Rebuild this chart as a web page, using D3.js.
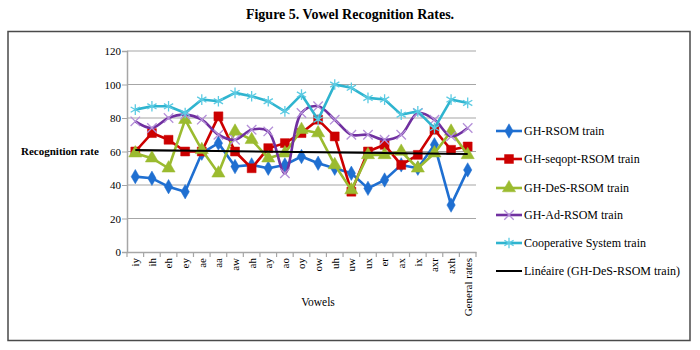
<!DOCTYPE html>
<html>
<head>
<meta charset="utf-8">
<script src="https://cdn.jsdelivr.net/npm/d3@7/dist/d3.min.js"></script>
<style>
html,body{margin:0;padding:0;background:#fff;}
svg{display:block;}
text{font-family:"Liberation Serif","Times New Roman",serif;fill:#000;}
</style>
</head>
<body>
<svg id="chart" width="700" height="350"></svg>
<script>
const categories = ["iy","ih","eh","ey","ae","aa","aw","ah","ay","ao","oy","ow","uh","uw","ux","er","ax","ix","axr","axh","General rates"];
const ghRsom    = [45,44,39,36,59,65,51,52,50,52,57,53,50,47,38,43,52,50,64,28,49];
const ghSeqopt  = [60,71,67,60,60,81,60,50,62,65,71,79,69,36,60,64,52,58,73,61,63];
const ghDes     = [59,56,50,79,61,47,72,67,56,59,73,71,52,37,58,58,60,50,59,72,58];
const ghAd      = [78,74,80,82,79,70,67,73,72,47,83,87,79,70,70,67,70,83,79,69,74];
const coop      = [85,87,87,83,91,90,95,93,90,84,94,79,100,98,92,91,82,84,74,91,89];
const yTicks    = [0,20,40,60,80,100,120];
const seriesNames = ["GH-RSOM train","GH-seqopt-RSOM train","GH-DeS-RSOM train","GH-Ad-RSOM train","Cooperative System train"];
const trendName = "Linéaire (GH-DeS-RSOM train)";

const series = [
  {name: seriesNames[0], values: ghRsom,   line:"#1f6fd1", mark:"#1f6fd1", sym:"diamond", curve:false},
  {name: seriesNames[1], values: ghSeqopt, line:"#cc0000", mark:"#cc0000", sym:"square",  curve:false},
  {name: seriesNames[2], values: ghDes,    line:"#9bbb2f", mark:"#9bbb2f", sym:"triangle",curve:false},
  {name: seriesNames[3], values: ghAd,     line:"#7030a0", mark:"#b48fd8", sym:"x",       curve:true},
  {name: seriesNames[4], values: coop,     line:"#2fb4cf", mark:"#5ccbe3", sym:"asterisk",curve:false}
];

const svg = d3.select("#chart");
const pLeft = 127, pRight = 476, pTop = 51, pBottom = 252;

const x = d3.scaleBand().domain(categories).range([pLeft, pRight]).padding(0);
const y = d3.scaleLinear().domain([0,120]).range([pBottom, pTop]);
const cx = c => x(c) + x.bandwidth()/2;

// title
svg.append("text").attr("x", 350).attr("y", 19).attr("text-anchor","middle")
  .style("font-size","14px").style("font-weight","bold").text("Figure 5. Vowel Recognition Rates.");

// border
svg.append("rect").attr("x", 8).attr("y", 31.5).attr("width", 682).attr("height", 309)
  .attr("fill","none").attr("stroke","#4a4a4a").attr("stroke-width",1.5);

// gridlines
svg.append("g").selectAll("line").data(yTicks.filter(d=>d>0)).join("line")
  .attr("x1", pLeft).attr("x2", pRight).attr("y1", d=>y(d)).attr("y2", d=>y(d))
  .attr("stroke","#a6a6a6").attr("stroke-width",1.2);

// y axis
const yAxis = svg.append("g").attr("transform",`translate(${pLeft},0)`)
  .call(d3.axisLeft(y).tickValues(yTicks).tickSize(5).tickPadding(1));
yAxis.select(".domain").attr("stroke","#a6a6a6").attr("stroke-width",1.5);
yAxis.selectAll(".tick line").attr("stroke","#a6a6a6");
yAxis.selectAll("text").style("font-size","11px").style("font-family","'Liberation Serif',serif").attr("fill","#000");

// x axis
const xAxis = svg.append("g").attr("transform",`translate(0,${pBottom})`)
  .call(d3.axisBottom(x).tickSize(0).tickPadding(0));
xAxis.select(".domain").attr("stroke","#a6a6a6").attr("stroke-width",1.5);
xAxis.selectAll(".tick text")
  .style("font-size","11px").style("font-family","'Liberation Serif',serif").attr("fill","#000")
  .attr("text-anchor","end").attr("dy","0.35em")
  .attr("transform","translate(0,6) rotate(-90)").attr("x",0).attr("y",0);
// boundary ticks
const bounds = categories.map(c=>x(c)).concat([pRight]);
svg.append("g").selectAll("line").data(bounds).join("line")
  .attr("x1", d=>d).attr("x2", d=>d).attr("y1", pBottom).attr("y2", pBottom+5)
  .attr("stroke","#a6a6a6").attr("stroke-width",1.2);

// axis titles
svg.append("text").attr("x", 21).attr("y", 155).style("font-size","11px").style("font-weight","bold").text("Recognition rate");
svg.append("text").attr("x", 318).attr("y", 306).attr("text-anchor","middle").style("font-size","11.5px").text("Vowels");

function symType(s){
  if (s==="diamond") return d3.symbolDiamond;
  if (s==="square") return d3.symbolSquare;
  if (s==="triangle") return d3.symbolTriangle;
  if (s==="x") return d3.symbolTimes || d3.symbolX || d3.symbolCross;
  return d3.symbolAsterisk || d3.symbolStar;
}
function symSize(s){
  return {diamond:60, square:80, triangle:75, x:60, asterisk:80}[s];
}
function drawMarker(g, s, color, px, py){
  const stroked = (s==="x"||s==="asterisk");
  const p = g.append("path").attr("transform",`translate(${px},${py})`)
    .attr("d", d3.symbol().type(symType(s)).size(symSize(s))());
  if (stroked) p.attr("fill","none").attr("stroke",color).attr("stroke-width",1.3);
  else p.attr("fill",color).attr("stroke",color).attr("stroke-width",0.5);
}

const plot = svg.append("g");
series.forEach(s=>{
  const line = d3.line().x((d,i)=>cx(categories[i])).y(d=>y(d))
    .curve(s.curve ? d3.curveCatmullRom.alpha(0.5) : d3.curveLinear);
  plot.append("path").datum(s.values).attr("d", line)
    .attr("fill","none").attr("stroke", s.line).attr("stroke-width",2.6).attr("stroke-linejoin","round");
  const mg = plot.append("g");
  s.values.forEach((v,i)=> drawMarker(mg, s.sym, s.mark, cx(categories[i]), y(v)));
});

// linear trendline of GH-DeS-RSOM
const n = ghDes.length;
const xs = d3.range(1, n+1);
const mx = d3.mean(xs), my = d3.mean(ghDes);
const slope = d3.sum(xs.map((xi,i)=>(xi-mx)*(ghDes[i]-my))) / d3.sum(xs.map(xi=>(xi-mx)*(xi-mx)));
const icpt = my - slope*mx;
plot.append("line")
  .attr("x1", cx(categories[0])).attr("y1", y(icpt + slope*1))
  .attr("x2", cx(categories[n-1])).attr("y2", y(icpt + slope*n))
  .attr("stroke","#000").attr("stroke-width",2);

// legend
const legY = [131, 159, 188, 215, 243, 271];
const leg = svg.append("g");
series.forEach((s,i)=>{
  leg.append("line").attr("x1",496).attr("x2",522).attr("y1",legY[i]).attr("y2",legY[i])
    .attr("stroke",s.line).attr("stroke-width",2.6);
  drawMarker(leg, s.sym, s.mark, 509, legY[i]);
  leg.append("text").attr("x",524).attr("y",legY[i]).attr("dy","0.35em").style("font-size","12px").text(s.name);
});
leg.append("line").attr("x1",496).attr("x2",522).attr("y1",legY[5]).attr("y2",legY[5])
  .attr("stroke","#000").attr("stroke-width",2);
leg.append("text").attr("x",524).attr("y",legY[5]).attr("dy","0.35em").style("font-size","12px").text(trendName);
</script>
</body>
</html>
